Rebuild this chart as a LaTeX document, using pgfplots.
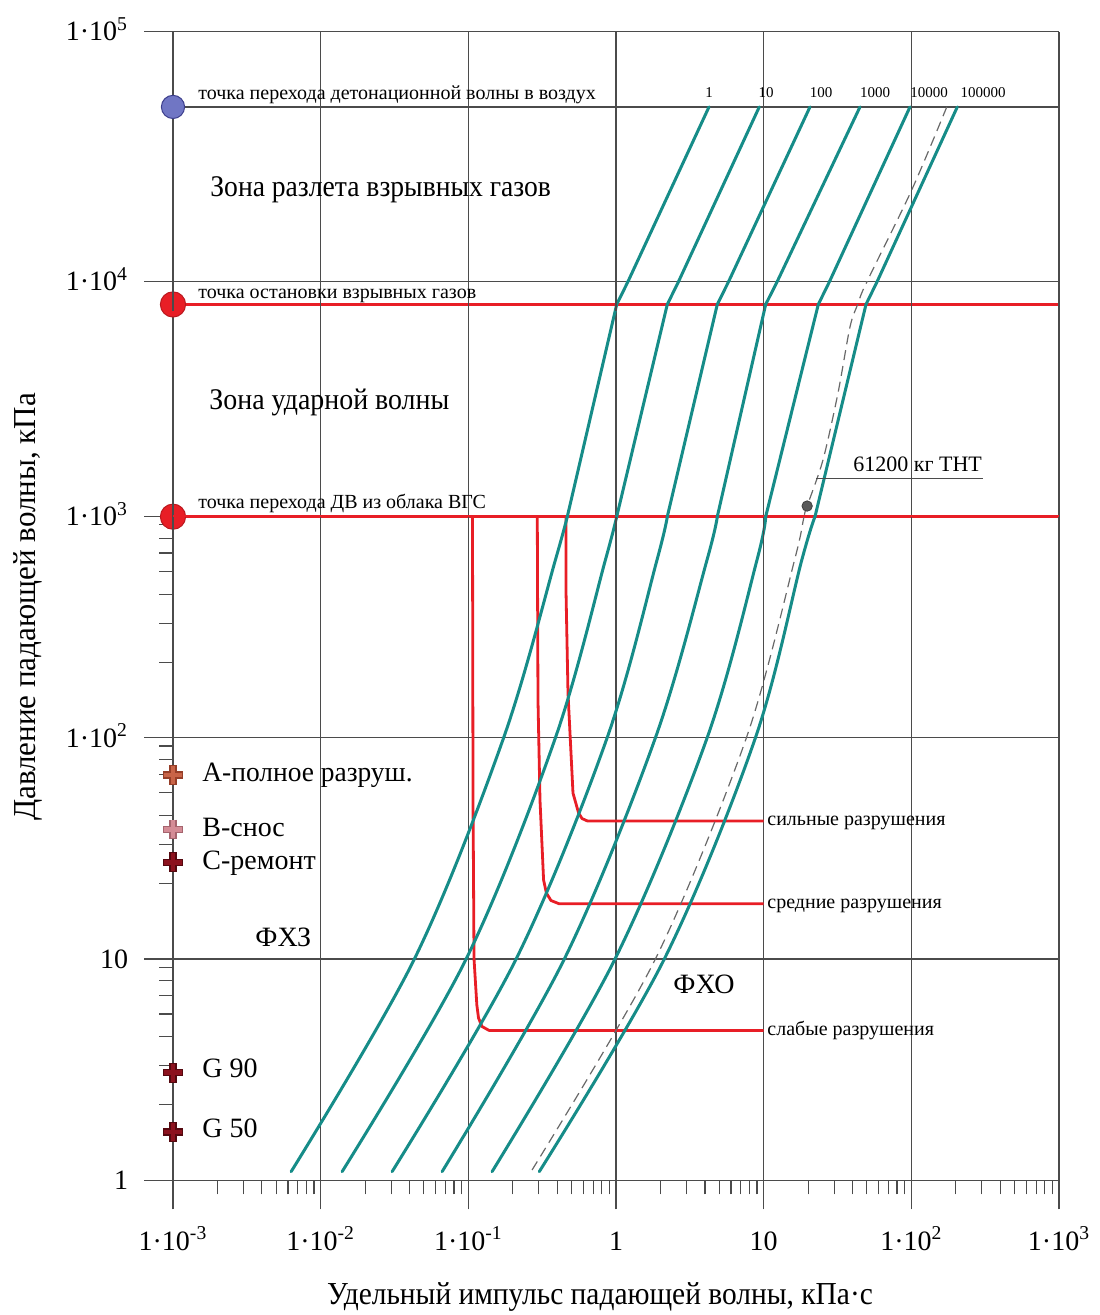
\documentclass[border=0pt]{standalone}
\usepackage{fontspec}
\setmainfont{Liberation Serif}
\usepackage{pgfplots}
\pgfplotsset{compat=1.18}

\definecolor{tealc}{RGB}{22,140,136}
\definecolor{gridc}{RGB}{75,75,75}
\definecolor{redc}{RGB}{232,30,38}
\definecolor{dashc}{RGB}{105,105,105}
\definecolor{bluec}{RGB}{112,118,196}
\definecolor{bluee}{RGB}{60,62,140}
\definecolor{crossA}{RGB}{200,100,72}
\definecolor{crossAe}{RGB}{150,62,40}
\definecolor{crossB}{RGB}{212,140,150}
\definecolor{crossBe}{RGB}{165,100,110}
\definecolor{crossC}{RGB}{140,18,30}
\definecolor{crossCe}{RGB}{85,8,15}

\newcommand\fs[1]{\fontsize{#1}{#1}\selectfont}

\pgfplotsset{
 every axis/.append style={
  scale only axis, width=443pt,
  xmode=log, ymode=log, xmin=0.001, xmax=1000,
  xtick={0.001,0.01,0.1,1,10,100,1000},
  xmajorgrids, ymajorgrids,
  major grid style={gridc, line width=0.6pt},
  axis line style={draw=none},
  tick align=outside, xtick pos=bottom, ytick pos=left,
  major tick length=14.5pt, minor tick length=7pt,
  tick style={gridc, line width=0.6pt},
  clip mode=individual,
  ticklabel style={font=\fs{14}},
  yticklabel style={anchor=base east, yshift=-4.6pt, xshift=-4.5pt},
 },
 tcurve/.style={tealc, line width=1.5pt, line join=round, line cap=round},
 redp/.style={redc, line width=1.4pt, line join=round},
}

\newcommand\curves{%
 \addplot[redp] coordinates {(0.001,1000) (1000,1000)};
 \addplot[redp] coordinates {(0.001,8000) (1000,8000)};
 \addplot[gridc, line width=0.7pt] coordinates {(0.001,50000) (1000,50000)};
 % strong / medium / weak damage
 \addplot[redp] coordinates {(0.4585,1000) (0.4585,466) (0.4731,159.6) (0.5114,56.3) (0.5579,45.8) (0.5886,43.2) (0.6411,42.1) (10,42.1)};
 \addplot[redp] coordinates {(0.2931,1000) (0.2963,148.4) (0.3057,52.4) (0.3233,22.8) (0.3378,19.9) (0.3628,18.4) (0.4110,17.8) (10,17.8)};
 \addplot[redp] coordinates {(0.1067,1000) (0.1076,52.4) (0.1093,10.0) (0.1142,6.20) (0.1172,5.42) (0.1237,4.96) (0.1380,4.76) (10,4.76)};
 % TNT mass curves 1 ... 100000 kg (smooth lower branch, straight upper branches)
 \addplot[tcurve, smooth, tension=0.55] coordinates {(0.00631,1.094) (0.0431,10) (0.1733,100) (0.3887,637) (0.4679,1000)};
 \addplot[tcurve] coordinates {(0.4679,1000) (1.011,8000) (4.264,50000)};
 \addplot[tcurve, smooth, tension=0.55] coordinates {(0.01397,1.094) (0.0966,10) (0.3887,100) (0.8474,637) (1.011,1000)};
 \addplot[tcurve] coordinates {(1.011,1000) (2.225,8000) (9.339,50000)};
 \addplot[tcurve, smooth, tension=0.55] coordinates {(0.03046,1.094) (0.2106,10) (0.8704,100) (1.895,637) (2.225,1000)};
 \addplot[tcurve] coordinates {(2.225,1000) (4.852,8000) (20.59,50000)};
 \addplot[tcurve, smooth, tension=0.55] coordinates {(0.06643,1.094) (0.4466,10) (1.848,100) (4.133,637) (4.852,1000)};
 \addplot[tcurve] coordinates {(4.852,1000) (10.32,8000) (44.9,50000)};
 \addplot[tcurve, smooth, tension=0.55] coordinates {(0.1448,1.094) (0.9845,10) (4.140,100) (9.01,637) (10.32,1000)};
 \addplot[tcurve] coordinates {(10.32,1000) (23.44,8000) (97.9,50000)};
 \addplot[tcurve, smooth, tension=0.55] coordinates {(0.3023,1.094) (2.123,10) (8.789,100) (18.12,637) (22.26,1000)};
 \addplot[tcurve] coordinates {(22.26,1000) (49.31,8000) (204.8,50000)};
 % 61200 kg TNT
 \addplot[dashc, line width=0.6pt, dash pattern=on 5pt off 3pt, smooth, tension=0.5] coordinates {(0.270,1.113) (1.848,10) (7.636,100) (16.19,637) (18.75,1000) (19.7,1110) (25.21,1743) (31.87,3360) (38.42,6416) (43.32,8000) (50.09,10000) (100.6,23270) (177.9,51710)};
}

\begin{document}
\begin{tikzpicture}
\begin{scope}[x=0.5pt,y=-0.5pt,shift={(-86.5pt,590.15pt)}]
\useasboundingbox (0,0) rectangle (1099,1315);
\end{scope}

% bottom part: 1 ... 1000
\begin{axis}[at={(0pt,0pt)}, anchor=south west, height=331.8pt,
  ymin=1, ymax=1000,
  ytick={1,10,100,1000},
  yticklabels={1,10,1·10\textsuperscript{2},1·10\textsuperscript{3}},
  xticklabels={1·10\textsuperscript{-3},1·10\textsuperscript{-2},1·10\textsuperscript{-1},1,10,1·10\textsuperscript{2},1·10\textsuperscript{3}},
  xticklabel style={anchor=base, yshift=-20.5pt},
  minor xtick={0.002,0.003,0.004,0.005,0.006,0.007,0.008,0.009,
   0.02,0.03,0.04,0.05,0.06,0.07,0.08,0.09,
   0.2,0.3,0.4,0.5,0.6,0.7,0.8,0.9,
   2,3,4,5,6,7,8,9,20,30,40,50,60,70,80,90,
   200,300,400,500,600,700,800,900},
  minor ytick={2.2,3.3,4.45,5.65,6.85,8,9.2,22,33,44.5,56.5,68.5,80,92,220,330,445,565,685,800,920},
 ]
 \curves
 \addplot[only marks, mark=*, mark size=6.3pt, mark options={fill=redc, draw=redc!80!black, line width=0.5pt}] coordinates {(0.001,1000)};
 \addplot[only marks, mark=+, mark size=4.9pt, mark options={crossAe, line width=3.6pt}] coordinates {(0.001,68)};
 \addplot[only marks, mark=+, mark size=4.5pt, mark options={crossA, line width=2.4pt}] coordinates {(0.001,68)};
 \addplot[only marks, mark=+, mark size=4.9pt, mark options={crossBe, line width=3.6pt}] coordinates {(0.001,38.6)};
 \addplot[only marks, mark=+, mark size=4.5pt, mark options={crossB, line width=2.4pt}] coordinates {(0.001,38.6)};
 \addplot[only marks, mark=+, mark size=4.9pt, mark options={crossCe, line width=3.6pt}] coordinates {(0.001,27.4) (0.001,3.06) (0.001,1.653)};
 \addplot[only marks, mark=+, mark size=4.5pt, mark options={crossC, line width=2.4pt}] coordinates {(0.001,27.4) (0.001,3.06) (0.001,1.653)};
\end{axis}

% middle part: 1000 ... 10000
\begin{axis}[at={(0pt,331.8pt)}, anchor=south west, height=117.5pt,
  ymin=1000, ymax=10000,
  ytick={10000}, yticklabels={1·10\textsuperscript{4}},
  xticklabels={}, minor xtick={}, minor ytick={}, minor tick length=0pt,
 ]
 \curves
 \addplot[only marks, mark=*, mark size=6.3pt, mark options={fill=redc, draw=redc!80!black, line width=0.5pt}] coordinates {(0.001,8000)};
 \addplot[only marks, mark=*, mark size=2.6pt, mark options={fill=black!65, draw=black!75, line width=0.4pt}] coordinates {(19.7,1110)};
\end{axis}

% top part: 10000 ... 100000
\begin{axis}[at={(0pt,449.3pt)}, anchor=south west, height=125pt,
  ymin=10000, ymax=100000,
  ytick={100000}, yticklabels={1·10\textsuperscript{5}},
  xticklabels={}, minor xtick={}, minor ytick={}, minor tick length=0pt,
 ]
 \curves
 \addplot[only marks, mark=*, mark size=5.8pt, mark options={fill=bluec, draw=bluee, line width=0.5pt}] coordinates {(0.001,50000)};
\end{axis}

% texts, placed in picture pixels
\begin{scope}[x=0.5pt,y=-0.5pt,shift={(-86.5pt,590.15pt)}, every node/.style={inner sep=0pt}]
 \node[anchor=base west, font=\fs{10}] at (198,100) {точка перехода детонационной волны в воздух};
 \node[anchor=base west, font=\fs{15}] at (210,197) {\scalebox{0.92}[1]{Зона разлета взрывных газов}};
 \node[anchor=base west, font=\fs{10}] at (198,299) {точка остановки взрывных газов};
 \node[anchor=base west, font=\fs{15}] at (209,410) {\scalebox{0.93}[1]{Зона ударной волны}};
 \node[anchor=base west, font=\fs{10}] at (198,509) {точка перехода ДВ из облака ВГС};
 \node[anchor=base west, font=\fs{11}] at (853,471.5) {61200 кг ТНТ};
 \draw[gridc, line width=0.5pt] (816,478.5) -- (983,478.5);
 \node[anchor=base west, font=\fs{10}] at (767,826) {сильные разрушения};
 \node[anchor=base west, font=\fs{10}] at (767,908.5) {средние разрушения};
 \node[anchor=base west, font=\fs{10}] at (767,1036) {слабые разрушения};
 \node[anchor=base west, font=\fs{14}] at (673,994) {ФХО};
 \node[anchor=base west, font=\fs{14}] at (255,947) {ФХЗ};
 \node[anchor=base west, font=\fs{14}] at (202,782) {\scalebox{0.98}[1]{А-полное разруш.}};
 \node[anchor=base west, font=\fs{14}] at (202,837) {В-снос};
 \node[anchor=base west, font=\fs{14}] at (202,870) {С-ремонт};
 \node[anchor=base west, font=\fs{14}] at (202,1078) {G 90};
 \node[anchor=base west, font=\fs{14}] at (202,1138) {G 50};
 \foreach \xx/\tt in {709/1,766/10,821/100,875/1000,929/10000,983/100000}
   \node[anchor=base, font=\fs{7.5}] at (\xx,97.7) {\tt};
 \node[font=\fs{16}] at (600,1297) {\scalebox{0.92}[1]{Удельный импульс падающей волны, кПа·с}};
 \node[font=\fs{16}, rotate=90] at (28,607) {\scalebox{0.97}[1]{Давление падающей волны, кПа}};
\end{scope}
\end{tikzpicture}
\end{document}
